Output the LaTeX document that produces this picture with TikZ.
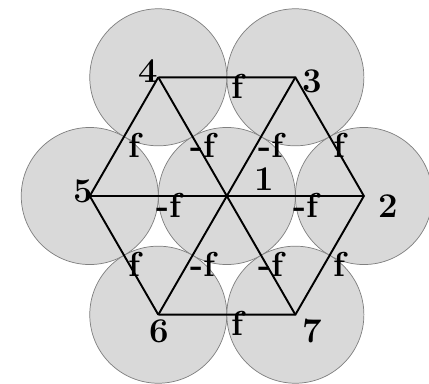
\documentclass[tikz,border=0pt]{standalone}
\usepackage{amsfonts, amssymb, amsmath}
\usepackage{tikz}

\begin{document}
\begin{tikzpicture}[
    disc/.style={fill=black!15, draw=black!50, line width=0.3pt},
    edge/.style={line width=0.8pt},
    flab/.style={font=\Large\bfseries, inner sep=0pt, xshift=1.5mm, yshift=-1.3mm},
    numlab/.style={font=\Large\bfseries, inner sep=0pt}]
    \useasboundingbox (-3.31, -2.73) rectangle (2.95, 2.86);

    % Centres
    \coordinate (c1) at (0, 0);
    \coordinate (c2) at (0:2);
    \coordinate (c3) at (60:2);
    \coordinate (c4) at (120:2);
    \coordinate (c5) at (180:2);
    \coordinate (c6) at (240:2);
    \coordinate (c7) at (300:2);

    % Circles
    \foreach \i in {1,...,7}
        \fill[disc] (c\i) circle (1);

    % Hexagon
    \draw[edge] (c4) -- node[flab] (f43) {f} (c3)
                     -- node[flab] (f32) {f} (c2)
                     -- node[flab] (f27) {f} (c7)
                     -- node[flab] (f76) {f} (c6);
    \draw[edge] (c6) -- node[flab] (f65) {f} (c5)
                     -- node[flab] (f54) {f} (c4);

    % Diagonals
    \draw[edge] (c5) -- node[flab] (f51) {-f} (c1) -- node[flab] (f12) {-f} (c2);
    \draw[edge] (c4) -- node[flab] (f41) {-f} (c1) -- node[flab] (f17) {-f} (c7);
    \draw[edge] (c3) -- node[flab] (f31) {-f} (c1) -- node[flab] (f16) {-f} (c6);

    % Numbers
    \node[numlab] (n1) at (0.54, 0.25) {1};
    \node[numlab] (n2) at (2.36, -0.15) {2};
    \node[numlab] (n3) at (1.24, 1.68) {3};
    \node[numlab] (n4) at (-1.14, 1.82) {4};
    \node[numlab] (n5) at (-2.09, 0.07) {5};
    \node[numlab] (n6) at (-0.98, -1.97) {6};
    \node[numlab] (n7) at (1.24, -1.97) {7};
\end{tikzpicture}
\end{document}
